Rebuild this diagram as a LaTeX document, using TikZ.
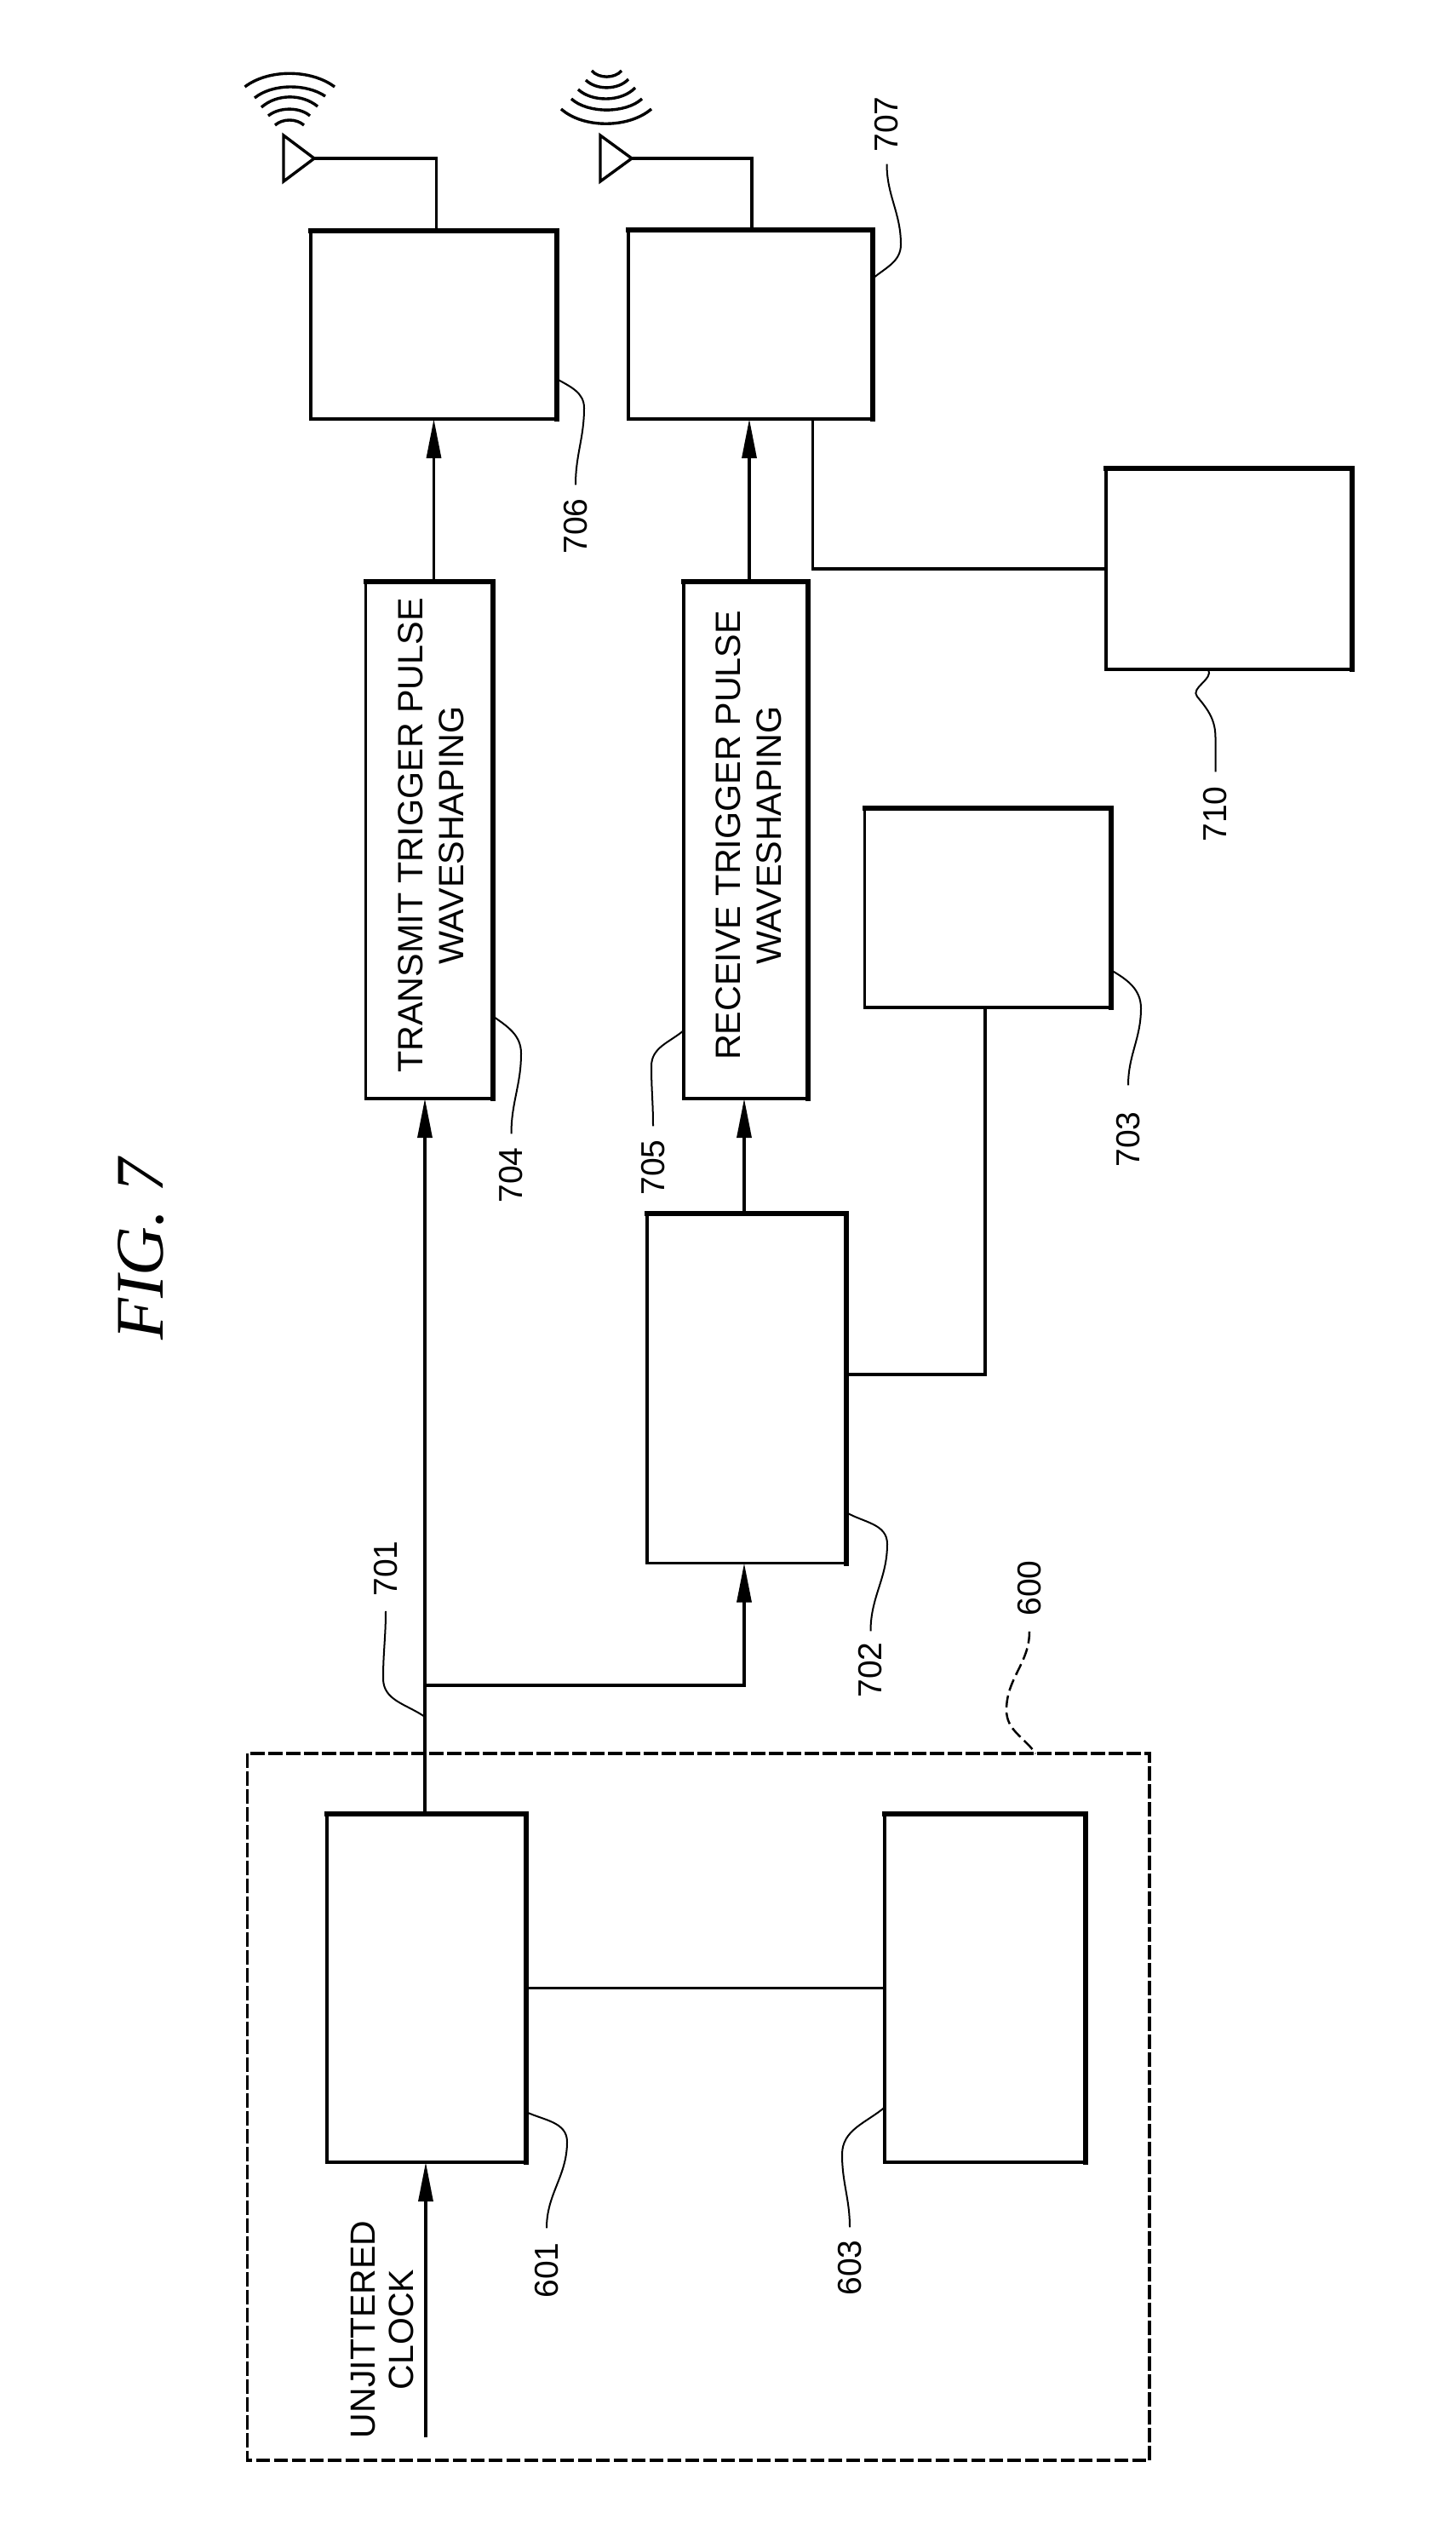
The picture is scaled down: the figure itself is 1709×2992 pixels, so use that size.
\documentclass[tikz,border=0pt]{standalone}
\usepackage{fontspec}
\setmainfont{Liberation Sans}
\newfontfamily\figfont{Liberation Serif}
\usetikzlibrary{arrows.meta}
\tikzset{
  x=1pt,y=-1pt,
  blk/.style 2 args={rotate=90,draw=black,line width=3.4pt,outer sep=0pt,inner sep=0pt,
     minimum width=#2,minimum height=#1,align=center,font=\fontsize{41.3}{48}\selectfont},
  edge/.style={line width=6pt,line cap=rect},
  conn/.style={line width=3.2pt},
  arr/.style={line width=3.2pt,-{Triangle[length=46pt,width=17pt]}},
  refnum/.style={rotate=90,inner sep=0pt,font=\fontsize{39}{39}\selectfont},
  leader/.style={line width=2pt},
  wave/.style={line width=3.4pt},
  ant/.style={line width=3.4pt,line join=miter},
}
\begin{document}
\begin{tikzpicture}
\useasboundingbox (0,0) rectangle (1709,2992);
% title
\node[rotate=90,inner sep=0pt,font=\fontsize{80}{80}\selectfont\figfont\itshape] (title) at (166,1467) {FIG. 7};
% blocks
\node[blk={289}{221}] (a706) at (509.5,381.5) {};
\node[blk={287}{222}] (a707) at (881.5,381) {};
\node[blk={149}{607},] (a704) at (504,986.5) {\rule{0pt}{33.6pt}\hspace*{11pt}TRANSMIT TRIGGER PULSE\\\hspace*{11pt}WAVESHAPING};
\node[blk={146}{607}] (a705) at (876,986.5) {\rule{0pt}{34.6pt}\hspace*{11pt}RECEIVE TRIGGER PULSE\\\hspace*{11pt}WAVESHAPING};
\node[blk={234}{411}] (a702) at (877,1630) {};
\node[blk={289}{234}] (a703) at (1160,1066) {};
\node[blk={289}{236}] (a710) at (1443.5,668) {};
\node[blk={234}{409}] (a601) at (501,2334.5) {};
\node[blk={236}{409}] (a603) at (1157,2334.5) {};
\node[rotate=90,draw=black,line width=3.4pt,dash pattern=on 16.5pt off 4.5pt,outer sep=0pt,inner sep=0pt,minimum width=830,minimum height=1059.5] (a600) at (820.25,2474) {};
% heavier top and right edges
\foreach \b in {a706,a707,a704,a705,a702,a703,a710,a601,a603}
  \draw[edge] (\b.north east) -- (\b.south east) -- (\b.south west);
% text
\node[rotate=90,inner sep=0pt,align=center,font=\fontsize{41}{45}\selectfont] (clktxt) at (449,2735.5) {UNJITTERED\\CLOCK};
\node[refnum] (l601) at (642,2666) {601};
\node[refnum] (l603) at (998,2663) {603};
\node[refnum] (l600) at (1209,1865) {600};
\node[refnum] (l701) at (453,1842) {701};
\node[refnum] (l702) at (1022.5,1961) {702};
\node[refnum] (l703) at (1325,1338) {703};
\node[refnum] (l704) at (600.5,1380) {704};
\node[refnum] (l705) at (767,1371) {705};
\node[refnum] (l706) at (676,618) {706};
\node[refnum] (l707) at (1041.5,146) {707};
\node[refnum] (l710) at (1427.5,956) {710};
% antennas
\coordinate (tipA) at (369,186);
\coordinate (tipB) at (742,186);
\draw[ant] (tipA) -- (333,159) -- (333,213) -- cycle;
\draw[ant] (tipB) -- (705,159) -- (705,213) -- cycle;
\draw[conn] (tipA) -| ([xshift=3pt]a706.east);
\draw[conn] (tipB) -| ([xshift=1.5pt]a707.east);
% transmit waves
\draw[wave] (287.5,102) .. controls (315,81) and (365,81) .. (393,102);
\draw[wave] (299,115) .. controls (320,98) and (360,98) .. (382,113);
\draw[wave] (307,126) .. controls (325,110) and (355,110) .. (373,125);
\draw[wave] (315,136) .. controls (328,125.5) and (352,125.5) .. (364,136);
\draw[wave] (323,147) .. controls (332,139) and (348,139) .. (357,147);
% receive waves
\draw[wave] (695,83) .. controls (703,92.5) and (722,92.5) .. (730,83);
\draw[wave] (688,94) .. controls (700,106) and (726,106) .. (738,93);
\draw[wave] (679,105) .. controls (695,120) and (730,120) .. (746,103);
\draw[wave] (671,116) .. controls (690,133.5) and (735,133.5) .. (754,116);
\draw[wave] (659,128) .. controls (685,151) and (738,151) .. (765,128);
% connectors
\coordinate (trunk) at (499,1979);
\coordinate (clk) at (500,2862);
\coordinate (c701) at (499,2016);
\draw[arr] (clk) -- (clk |- a601.west);
\draw[conn] (trunk |- a601.east) -- (trunk);
\draw[arr] (trunk) -- (trunk |- a704.west);
\draw[arr] (trunk) -| ([xshift=-3pt]a702.west);
\draw[arr] ([xshift=-3pt]a702.east) -- ([xshift=-2pt]a705.west);
\draw[arr] (a704.east -| a706.west) -- (a706.west);
\draw[arr] ([xshift=-1.5pt]a705.east -| a707.west) -- ([xshift=-1.5pt]a707.west);
\draw[conn] ([xshift=73pt]a707.west) |- (a710.north);
\draw[conn] ([yshift=16pt]a702.south) -| ([xshift=-3pt]a703.west);
\draw[conn] (a601.south) -- (a603.north);
% leaders
\draw[leader] ([yshift=17pt]l601.east) to[out=90,in=-90] (666,2515) to[out=90,in=-25] ([yshift=-145.5pt]a601.south);
\draw[leader] ([yshift=15pt]l603.east) to[out=90,in=-90] (989,2530) to[out=90,in=-140] ([yshift=-140pt]a603.north);
\draw[leader] ([yshift=-17pt]l701.west) to[out=-90,in=90] (450,1971) to[out=-90,in=145] (c701);
\draw[leader] ([yshift=13pt]l702.east) to[out=90,in=-90] (1042,1813) to[out=90,in=-30] ([yshift=-146pt]a702.south);
\draw[leader] ([yshift=31pt]l703.east) to[out=90,in=-90] (1340,1184) to[out=90,in=-30] ([yshift=-73pt]a703.south);
\draw[leader] ([yshift=16pt]l704.east) to[out=90,in=-90] (612,1237) to[out=90,in=-35] ([yshift=-206.5pt]a704.south);
\draw[leader] ([yshift=16pt]l705.east) to[out=90,in=-90] (765,1252) to[out=90,in=-140] ([yshift=-223.5pt]a705.north);
\draw[leader] ([yshift=16pt]l706.east) to[out=90,in=-90] (686,479) to[out=90,in=-30] ([yshift=-63.5pt]a706.south);
\draw[leader] ([yshift=-14pt]l707.west) to[out=-90,in=90] (1058,287) to[out=-90,in=40] ([yshift=54pt]a707.south);
\draw[leader] ([yshift=17pt]l710.east) -- +(0,-40) to[out=90,in=-50] (1406,818) to[out=130,in=-60] ([xshift=-24.5pt]a710.west);
\draw[leader,line width=2.5pt,dash pattern=on 14pt off 6pt] ([yshift=-18pt]l600.west) to[out=-90,in=90] (1182,2008) to[out=-90,in=125] ([xshift=396pt]a600.east);
\end{tikzpicture}
\end{document}
